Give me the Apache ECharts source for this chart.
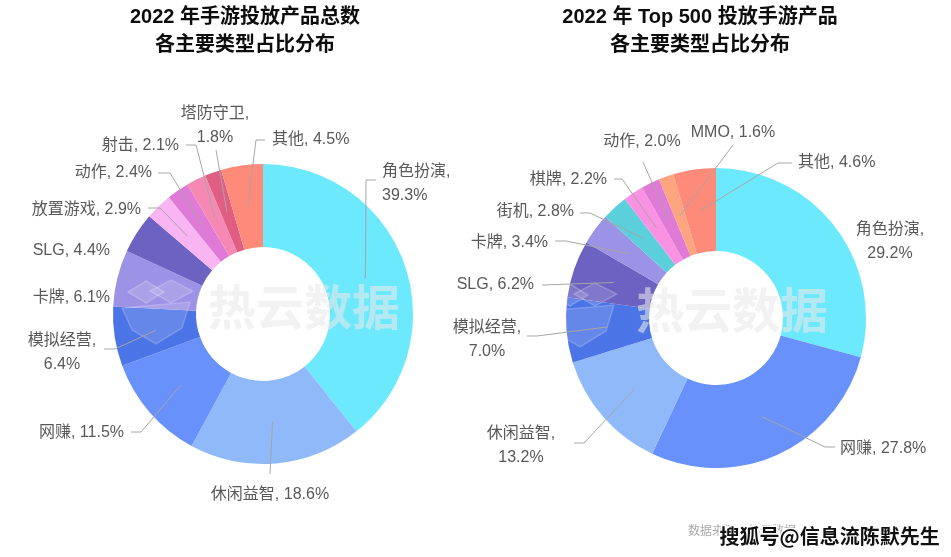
<!DOCTYPE html>
<html><head><meta charset="utf-8">
<script src="https://cdn.jsdelivr.net/npm/echarts@6/dist/echarts.min.js"></script>
<style>html,body{margin:0;padding:0;background:#fff}#c{width:951px;height:557px}</style>
</head><body><div id="c"></div>
<script>
// Left chart: 2022 年手游投放产品总数 各主要类型占比分布 (%)
const leftNames = ['角色扮演','休闲益智','网赚','模拟经营','卡牌','SLG','放置游戏','动作','射击','塔防守卫','其他'];
const leftValues = [39.3,18.6,11.5,6.4,6.1,4.4,2.9,2.4,2.1,1.8,4.5];
// Right chart: 2022 年 Top 500 投放手游产品 各主要类型占比分布 (%)
const rightNames = ['角色扮演','网赚','休闲益智','模拟经营','SLG','卡牌','街机','棋牌','动作','MMO','其他'];
const rightValues = [29.2,27.8,13.2,7.0,6.2,3.4,2.8,2.2,2.0,1.6,4.6];

// ---- styling ----
const colorOf = {
  '角色扮演':'#6de9fd','休闲益智':'#8fb9f9','网赚':'#6891fb','模拟经营':'#4b74e6','卡牌':'#9c92e6',
  'SLG':'#6c62c2','放置游戏':'#f8b5f1','动作':'#df7bd7','射击':'#f689b3','塔防守卫':'#e05d84',
  '其他':'#fe8b79','街机':'#5bd0dc','棋牌':'#f992e2','MMO':'#fda57f'
};
const CENTERS = [[263,314],[716,318]];
const R_IN = 67, R_OUT = 150, R_MID = 108.5;
// label placement (layout only): x, y, align, leader elbow/end points (start computed from slice angle)
const leftLayout = {
  '角色扮演':{x:382,y:184,a:'left',  p:[[366,180],[376,180]]},
  '休闲益智':{x:270,y:495,a:'center',p:[[270,474]]},
  '网赚':    {x:124,y:433,a:'right', p:[[141,432],[131,432]]},
  '模拟经营':{x:62, y:353,a:'center',p:[[115,349],[104,349]]},
  '卡牌':    {x:110,y:298,a:'right'},
  'SLG':     {x:110,y:251,a:'right'},
  '放置游戏':{x:141,y:210,a:'right', p:[[160,208],[148,208]]},
  '动作':    {x:152,y:173,a:'right', p:[[170,173],[158,173]]},
  '射击':    {x:179,y:146,a:'right', p:[[196,145],[186,145]]},
  '塔防守卫':{x:215,y:126,a:'center',p:[[216,150]]},
  '其他':    {x:272,y:140,a:'left',  p:[[256,140],[265,140]]}
};
const rightLayout = {
  '角色扮演':{x:890,y:242,a:'center'},
  '网赚':    {x:840,y:449,a:'left',  p:[[825,447],[835,447]]},
  '休闲益智':{x:521,y:446,a:'center',p:[[584,443],[574,443]]},
  '模拟经营':{x:487,y:340,a:'center',p:[[537,336],[527,336]]},
  'SLG':     {x:534,y:285,a:'right', p:[[542,285]]},
  '卡牌':    {x:548,y:243,a:'right', p:[[566,241],[555,241]]},
  '街机':    {x:574,y:212,a:'right', p:[[590,213],[580,213]]},
  '棋牌':    {x:607,y:180,a:'right', p:[[622,179],[614,179]]},
  '动作':    {x:642,y:142,a:'center',p:[[643,162]]},
  'MMO':     {x:733,y:133,a:'center',p:[[733,145]]},
  '其他':    {x:798,y:163,a:'left',  p:[[778,163],[792,163]]}
};
const leftWrap = ['角色扮演','模拟经营','塔防守卫'];
const rightWrap = ['角色扮演','模拟经营','休闲益智'];

function build(names, values, wrap){
  return names.map((n,i)=>({
    name:n, value:values[i], itemStyle:{color:colorOf[n]},
    label:{formatter: (p)=> p.name + ',' + (wrap.indexOf(n)>=0 ? '\n' : ' ') + p.value.toFixed(1) + '%'}
  }));
}
// leader start: middle of the ring at each slice's mid angle (derived from the data)
function sliceStart(values, i, c){
  const total = values.reduce((s,v)=>s+v,0);
  let cum = 0; for (let k=0;k<i;k++) cum += values[k];
  const ang = (cum + values[i]/2)/total*Math.PI*2;
  return [c[0] + R_MID*Math.sin(ang), c[1] - R_MID*Math.cos(ang)];
}
function makeLayout(names, layout){
  return function(params){
    const L = layout[names[params.dataIndex]];
    return {x:L.x, y:L.y, align:L.a, verticalAlign:'middle', hideOverlap:false};
  };
}
function leaders(names, values, layout, c){
  return names.filter(n=>layout[n].p).map(n=>{
    const i = names.indexOf(n);
    return {type:'polyline', z:98, silent:true,
      shape:{points:[sliceStart(values,i,c)].concat(layout[n].p)},
      style:{stroke:'#a6a6a6', lineWidth:1, fill:null}};
  });
}
const FONT = '"Liberation Sans", "Noto Sans CJK SC", sans-serif';
const chart = echarts.init(document.getElementById('c'));
const labelStyle = {show:true, position:'outside', color:'#595959', fontSize:16, lineHeight:24, fontFamily:FONT, overflow:'none'};

function logo(dx, dy){
  const st = {fill:'rgba(255,255,255,0.14)', stroke:'rgba(255,255,255,0.2)', lineWidth:1.5};
  return [
    {type:'polygon', z:97, silent:true, shape:{points:[[128+dx,292+dy],[146+dx,281+dy],[164+dx,292+dy],[146+dx,303+dy]]}, style:st},
    {type:'polygon', z:97, silent:true, shape:{points:[[150+dx,291+dy],[171+dx,280+dy],[193+dx,291+dy],[171+dx,303+dy]]}, style:st},
    {type:'polygon', z:97, silent:true, shape:{points:[[122+dx,308+dy],[190+dx,302+dy],[182+dx,328+dy],[156+dx,344+dy],[132+dx,330+dy]]}, style:st}
  ];
}
chart.setOption({
  animation:false,
  title:[
    {text:'2022 年手游投放产品总数\n各主要类型占比分布', left:240, top:-2, textAlign:'center',
     textStyle:{fontSize:20, fontWeight:'bold', color:'#0d0d0d', lineHeight:28, fontFamily:FONT}},
    {text:'2022 年 Top 500 投放手游产品\n各主要类型占比分布', left:695, top:-2, textAlign:'center',
     textStyle:{fontSize:20, fontWeight:'bold', color:'#0d0d0d', lineHeight:28, fontFamily:FONT}}
  ],
  series:[
    {type:'pie', center:CENTERS[0], radius:[R_IN,R_OUT], startAngle:90, clockwise:true,
     label:labelStyle, labelLine:{show:false}, itemStyle:{borderWidth:0}, avoidLabelOverlap:false,
     labelLayout: makeLayout(leftNames, leftLayout),
     data:build(leftNames,leftValues,leftWrap)},
    {type:'pie', center:CENTERS[1], radius:[R_IN,R_OUT], startAngle:90, clockwise:true,
     label:labelStyle, labelLine:{show:false}, itemStyle:{borderWidth:0}, avoidLabelOverlap:false,
     labelLayout: makeLayout(rightNames, rightLayout),
     data:build(rightNames,rightValues,rightWrap)}
  ],
  graphic:[].concat(
    leaders(leftNames, leftValues, leftLayout, CENTERS[0]),
    leaders(rightNames, rightValues, rightLayout, CENTERS[1]),
    logo(0,0), logo(424,3), [
    {type:'text', left:208, top:283, z:100, silent:true,
     style:{text:'热云数据', fontSize:48, fontWeight:'bold', fill:'rgba(232,232,232,0.58)', fontFamily:'"Noto Sans CJK SC", sans-serif'}},
    {type:'text', left:636, top:286, z:100, silent:true,
     style:{text:'热云数据', fontSize:48, fontWeight:'bold', fill:'rgba(232,232,232,0.58)', fontFamily:'"Noto Sans CJK SC", sans-serif'}},
    {type:'text', left:688, top:524, z:100, silent:true,
     style:{text:'数据来源：热云数据', fontSize:12, fill:'#aaa', fontFamily:'"Noto Sans CJK SC", sans-serif'}},
    {type:'text', left:718, top:525, z:101, silent:true,
     style:{text:'搜狐号@信息流陈默先生', fontSize:20, fontWeight:'bold', fill:'#111', stroke:'#fff', lineWidth:3, fontFamily:'"Noto Sans CJK SC", sans-serif'}}
  ])
});
</script></body></html>
